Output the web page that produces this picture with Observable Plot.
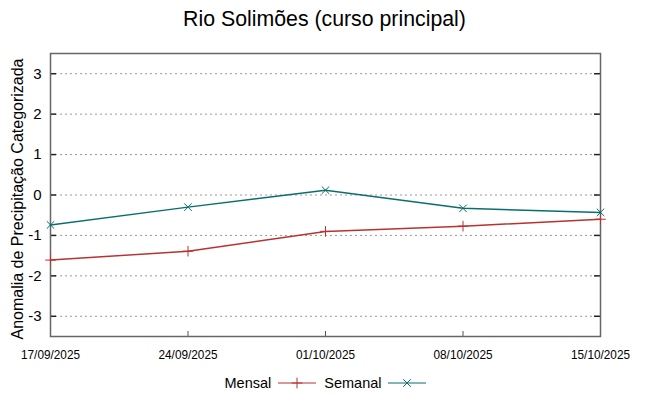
<!DOCTYPE html>
<html>
<head>
<meta charset="utf-8">
<script src="https://cdn.jsdelivr.net/npm/d3@7"></script>
<script src="https://cdn.jsdelivr.net/npm/@observablehq/plot@0.6"></script>
<style>
  html, body { margin: 0; padding: 0; background: #fff; }
  body { width: 649px; height: 396px; overflow: hidden; font-family: "Liberation Sans", Arial, sans-serif; }
  #title { height: 40px; line-height: 38px; text-align: center; font-size: 21.3px; color: #000; }
  #legend { height: 26px; display: flex; justify-content: center; align-items: center; font-size: 14.5px; color: #000; padding-left: 10px; }
  #legend .item { display: flex; align-items: center; }
  #legend svg { margin: 0 8px 0 7px; }
</style>
</head>
<body>
<div id="title">Rio Solimões (curso principal)</div>
<div id="chart"></div>
<div id="legend"></div>
<script>
const dates = ["2025-09-17", "2025-09-24", "2025-10-01", "2025-10-08", "2025-10-15"];
const tickLabels = ["17/09/2025", "24/09/2025", "01/10/2025", "08/10/2025", "15/10/2025"];
const mensal = [-1.61, -1.39, -0.90, -0.77, -0.60];
const semanal = [-0.74, -0.30, 0.12, -0.33, -0.43];
const yTicks = [-3, -2, -1, 0, 1, 2, 3];
const seriesNames = ["Mensal", "Semanal"];
const seriesColors = ["#b83232", "#0b6e6e"];
const seriesSymbols = ["plus", "times"];
const yLabel = "Anomalia de Precipitação Categorizada";

const parse = d3.utcParse("%Y-%m-%d");
const xDates = dates.map(parse);
const rows = [];
[mensal, semanal].forEach((vals, s) => {
  vals.forEach((v, i) => rows.push({date: xDates[i], value: v, series: seriesNames[s]}));
});
const labelOf = new Map(xDates.map((d, i) => [+d, tickLabels[i]]));

const W = 649, H = 330;
const mL = 50, mR = 49, mT = 13, mB = 34;
const fw = W - mL - mR, fh = H - mT - mB;

const chart = Plot.plot({
  width: W, height: H,
  marginLeft: mL, marginRight: mR, marginTop: mT, marginBottom: mB,
  style: {fontFamily: "Liberation Sans, Arial, sans-serif", background: "#fff", color: "#000"},
  x: {type: "utc", domain: [xDates[0], xDates[xDates.length - 1]]},
  y: {domain: [-3.5, 3.5]},
  marks: [
    Plot.gridY(yTicks, {stroke: "#999", strokeOpacity: 1, strokeDasharray: "2,3", strokeWidth: 1}),
    Plot.axisY({ticks: yTicks, tickSize: 0, tickPadding: 9, label: null, fontSize: 15, tickFormat: d => String(d)}),
    Plot.text([yLabel], {text: d => d, frameAnchor: "left", textAnchor: "middle", rotate: -90, dx: -33, dy: 4, fontSize: 16, fill: "#000"}),
    Plot.axisX({ticks: xDates, tickSize: 0, tickPadding: 13, label: null, fontSize: 13.5, tickFormat: d => labelOf.get(+d)}),
    Plot.tickY(yTicks, {y: d => d, stroke: "#222", strokeWidth: 1.5, insetRight: fw - 6}),
    Plot.tickY(yTicks, {y: d => d, stroke: "#222", strokeWidth: 1.5, insetLeft: fw - 6}),
    Plot.tickX(xDates, {x: d => d, stroke: "#555", strokeWidth: 1, insetTop: fh - 5}),
    Plot.frame({stroke: "#666", strokeWidth: 1.5}),
    Plot.line(rows, {x: "date", y: "value", z: "series", stroke: d => d.series, strokeWidth: 1.5}),
    Plot.dot(rows, {x: "date", y: "value", symbol: d => d.series, stroke: d => d.series, r: 3.5, strokeWidth: 1})
  ],
  color: {domain: seriesNames, range: seriesColors},
  symbol: {domain: seriesNames, range: seriesSymbols}
});
document.getElementById("chart").appendChild(chart);

// condense the x tick labels like the reference's narrow font
d3.select(chart).selectAll('g[aria-label="x-axis tick label"] text')
  .attr("textLength", 59).attr("lengthAdjust", "spacingAndGlyphs");

// legend
const legend = d3.select("#legend");
seriesNames.forEach((name, i) => {
  const item = legend.append("div").attr("class", "item");
  item.append("span").text(name);
  const s = item.append("svg").attr("width", 38).attr("height", 12);
  s.append("line").attr("x1", 0).attr("x2", 38).attr("y1", 6).attr("y2", 6).attr("stroke", seriesColors[i]).attr("stroke-width", 1.2);
  s.append("path").attr("transform", "translate(19,6)")
    .attr("d", d3.symbol(i === 0 ? d3.symbolPlus : d3.symbolTimes, 40)())
    .attr("fill", "none").attr("stroke", seriesColors[i]).attr("stroke-width", 1);
});
</script>
</body>
</html>
